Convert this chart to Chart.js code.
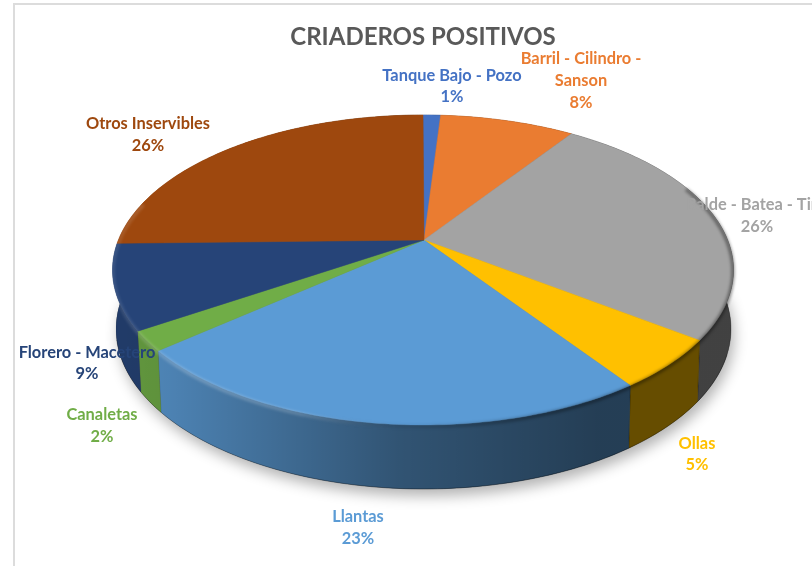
<!DOCTYPE html>
<html><head><meta charset="utf-8">
<style>html,body{margin:0;padding:0;background:#fff;overflow:hidden}#w{position:relative;width:812px;height:566px}</style>
<script src="https://cdn.jsdelivr.net/npm/chart.js@4"></script>
</head><body><div id="w"><canvas id="c" width="812" height="566"></canvas></div>
<script>
const titleText = "CRIADEROS POSITIVOS";
const categories = ["Tanque Bajo - Pozo","Barril - Cilindro - Sanson","Balde - Batea - Tina","Ollas","Llantas","Canaletas","Florero - Macetero","Otros Inservibles"];
const values = [1.1,8.45,25.6,5.15,23.45,2.05,8.85,25.35];
const percentLabels = ["1%","8%","26%","5%","23%","2%","9%","26%"];
const colors = ["#4472c4","#ea7c31","#a3a3a3","#ffc000","#5b9bd5","#70ad47","#264478","#9e480e"];

const FONT = "Lato, Carlito, sans-serif";
const TOP = {ex:423, ey:270, a:310.5, b:155};
const BOT = {ex:423.5, ey:329, a:307.5, b:160};
const K = 0.1935;
function proj(e, ang){
  const t = ang + Math.PI/2, u = Math.sin(t), v = -Math.cos(t), d = 1 - K*v;
  const ru = e.a*Math.sqrt(1-K*K), rv = e.b*(1-K*K);
  return [e.ex + ru*u/d, e.ey - e.b*K + rv*v/d];
}
function rimPts(e,a0,a1){
  const n = Math.max(2, Math.ceil((a1-a0)/(Math.PI/180))), p=[];
  for(let i=0;i<=n;i++) p.push(proj(e,a0+(a1-a0)*i/n));
  return p;
}
function path(ctx,pts,close=true){ctx.beginPath();pts.forEach((p,i)=>i?ctx.lineTo(p[0],p[1]):ctx.moveTo(p[0],p[1]));if(close)ctx.closePath();}
const labelLayout = [
  {x:452,y:[76,97]},{x:581,y:[59,81,103]},{x:757,y:[205,227]},{x:697,y:[444,465]},
  {x:358,y:[517,539]},{x:102,y:[415,437]},{x:87,y:[353,374]},{x:148,y:[124,146]}
];
const labelLines = categories.map((c,i)=> i===1 ? ["Barril - Cilindro -","Sanson"] : [c]);

const pie3d = {
  id:"pie3d",
  beforeDraw(chart){
    const ctx=chart.ctx;
    ctx.save();ctx.fillStyle="#dcdcdc";ctx.fillRect(13,3,2,563);ctx.fillRect(13,3,799,2);ctx.restore();
  },
  beforeDatasetDraw(chart){
    const ctx = chart.ctx, arcs = chart.getDatasetMeta(0).data;
    const d2r=Math.PI/180;
    const full = rimPts(BOT,0,Math.PI*2);
    // drop shadow
    ctx.save();
    ctx.shadowColor="rgba(0,0,0,0.3)";ctx.shadowBlur=14;ctx.shadowOffsetY=7;ctx.shadowOffsetX=3;
    ctx.fillStyle="#666";path(ctx,full);ctx.fill();
    ctx.restore();
    // side walls
    const g = ctx.createLinearGradient(TOP.ex-TOP.a,0,TOP.ex+TOP.a,0);
    g.addColorStop(0,"rgba(0,0,0,0.13)");g.addColorStop(0.09,"rgba(0,0,0,0.16)");
    g.addColorStop(0.46,"rgba(0,0,0,0.46)");g.addColorStop(0.78,"rgba(0,0,0,0.6)");g.addColorStop(1,"rgba(0,0,0,0.6)");
    arcs.forEach((a,i)=>{
      const t=rimPts(TOP,a.startAngle,a.endAngle), b=rimPts(BOT,a.startAngle,a.endAngle).reverse();
      const poly=t.concat(b);
      path(ctx,poly);ctx.fillStyle=colors[i];ctx.fill();
      ctx.fillStyle=g;ctx.fill();
      ctx.strokeStyle=g;ctx.lineWidth=0.4;ctx.stroke();
    });
    // thin dark line along the lower edge
    ctx.save();ctx.strokeStyle="rgba(0,0,0,0.22)";ctx.lineWidth=1;
    path(ctx,rimPts(BOT,(110-90)*d2r,(255-90)*d2r),false);ctx.stroke();ctx.restore();
    // top faces
    const centre=[TOP.ex+1,TOP.ey-TOP.b*K];
    arcs.forEach((a,i)=>{
      const poly=[centre].concat(rimPts(TOP,a.startAngle,a.endAngle));
      path(ctx,poly);ctx.fillStyle=colors[i];ctx.fill();
      ctx.strokeStyle=colors[i];ctx.lineWidth=0.5;ctx.stroke();
    });
    // bevel at the rim
    ctx.save();
    const wide=[];
    for(let th=68;th<=285;th+=1) wide.push(proj({ex:TOP.ex,ey:TOP.ey+1.5,a:TOP.a-0.5,b:TOP.b},(th-90)*d2r));
    const rg=ctx.createLinearGradient(TOP.ex-TOP.a,0,TOP.ex+TOP.a,0);
    rg.addColorStop(0,"rgba(255,255,255,0.10)");rg.addColorStop(0.12,"rgba(255,255,255,0.24)");rg.addColorStop(0.3,"rgba(255,255,255,0.2)");
    rg.addColorStop(0.46,"rgba(0,0,0,0.08)");rg.addColorStop(0.7,"rgba(0,0,0,0.32)");rg.addColorStop(1,"rgba(0,0,0,0.4)");
    ctx.filter="blur(1.5px)";ctx.strokeStyle=rg;ctx.lineWidth=3.5;ctx.lineJoin="round";
    path(ctx,wide,false);ctx.stroke();
    ctx.restore();
    return false;
  },
  afterDatasetsDraw(chart){
    const ctx=chart.ctx;
    ctx.save();ctx.textAlign="center";ctx.textBaseline="middle";ctx.font="bold 16.4px "+FONT;
    labelLayout.forEach((l,i)=>{
      ctx.fillStyle=colors[i];
      const lines=labelLines[i].concat(percentLabels[i]);
      lines.forEach((s,j)=>ctx.fillText(s,l.x,l.y[j]));
    });
    ctx.restore();
  }
};

new Chart(document.getElementById("c"),{
  type:"pie",
  data:{labels:categories,datasets:[{data:values,backgroundColor:colors,borderWidth:0}]},
  options:{
    responsive:false,animation:false,
    layout:{padding:{left:34}},
    plugins:{
      legend:{display:false},tooltip:{enabled:false},
      title:{display:true,text:titleText,color:"#595959",font:{family:FONT,size:24,weight:"bold"},padding:{top:23,bottom:0},align:"center"}
    }
  },
  plugins:[pie3d]
});
</script></body></html>
